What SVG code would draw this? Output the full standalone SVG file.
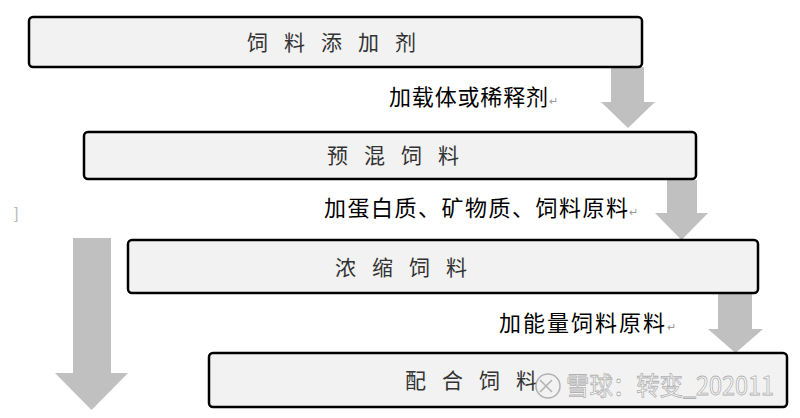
<svg xmlns="http://www.w3.org/2000/svg" width="800" height="418" viewBox="0 0 800 418">
<style>
.box{fill:#f2f2f2;stroke:#000;stroke-width:2.5}
.nt{font-family:"Noto Sans CJK SC","Noto Sans CJK JP",sans-serif;font-size:21px;fill:#333;letter-spacing:16px}
.lb{font-family:"Noto Sans CJK SC","Noto Sans CJK JP",sans-serif;font-size:22px;fill:#000}
.rt{font-family:"Liberation Sans",sans-serif;font-size:11px;fill:#999}
.arr{fill:#c0c0c0}
.wm{font-family:"Noto Sans CJK SC",sans-serif;font-size:25px;fill:#fff;stroke:#aaa;stroke-width:0.8}
</style>
<rect width="800" height="418" fill="#fff"/>
<g id="connectors">
<polygon class="arr" points="611,67 644,67 644,102 655,102 628,128 601,102 611,102"/>
<polygon class="arr" points="667,180 697,180 697,213 708,213 681.5,240 655,213 667,213"/>
<polygon class="arr" points="718,293 752,293 752,329 763,329 735.5,353 708,329 718,329"/>
<polygon class="arr" points="73,238 111,238 111,373 128,373 91.5,410 55,373 73,373"/>
</g>
<g id="n1">
<rect class="box" x="29" y="17" width="613" height="50" rx="4"/>
<text class="nt" x="247" y="50">饲料添加剂</text>
</g>
<g id="l1">
<text class="lb" y="105"><tspan x="389" textLength="159" lengthAdjust="spacing">加载体或稀释剂</tspan><tspan class="rt">↵</tspan></text>
</g>
<g id="n2">
<rect class="box" x="84" y="132" width="612" height="47" rx="4"/>
<text class="nt" x="327" y="163">预混饲料</text>
</g>
<g id="l2">
<text class="lb" y="216"><tspan x="324" textLength="304" lengthAdjust="spacing">加蛋白质、矿物质、饲料原料</tspan><tspan class="rt">↵</tspan></text>
</g>
<g id="n3">
<rect class="box" x="128" y="240" width="630" height="53" rx="4"/>
<text class="nt" x="335" y="275">浓缩饲料</text>
</g>
<g id="l3">
<text class="lb" y="331"><tspan x="499" textLength="166" lengthAdjust="spacing">加能量饲料原料</tspan><tspan class="rt">↵</tspan></text>
</g>
<g id="n4">
<rect class="box" x="209" y="353" width="578" height="54" rx="4"/>
<text class="nt" x="405" y="388">配合饲料</text>
</g>
<text x="14" y="219" font-family="Liberation Sans,sans-serif" font-size="16" fill="#bbb">]</text>
<g id="watermark" opacity="0.9">
<circle cx="548" cy="386" r="12" fill="none" stroke="#aaa" stroke-width="1.5"/>
<path d="M540,380 L552,392 M552,380 L540,392" stroke="#aaa" stroke-width="1.5" fill="none"/>
<text class="wm" x="566" y="395" textLength="208" lengthAdjust="spacingAndGlyphs">雪球：转变_202011</text>
</g>
</svg>
